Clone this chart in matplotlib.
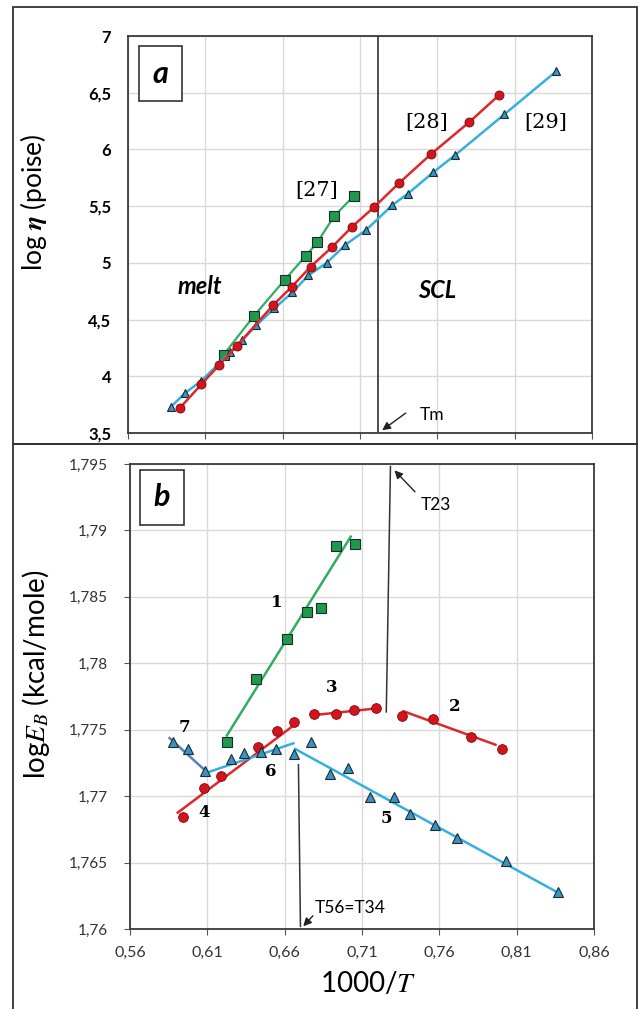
import matplotlib
matplotlib.use("Agg")
import matplotlib.pyplot as plt
from matplotlib.patches import Rectangle

plt.rcParams['font.family'] = ['Lato', 'DejaVu Sans']
plt.rcParams['mathtext.fontset'] = 'stix'

# ---- panel a: log viscosity vs 1000/T ----
ref27_x = [0.6218, 0.6413, 0.6613, 0.6748, 0.6824, 0.6932, 0.7060]
ref27_y = [4.19, 4.53, 4.85, 5.06, 5.18, 5.41, 5.59]

ref28_x = [0.5935, 0.6075, 0.6190, 0.6305, 0.6540, 0.6660, 0.6780, 0.6920,
           0.7050, 0.7190, 0.7350, 0.7560, 0.7806, 0.8000]
ref28_y = [3.72, 3.93, 4.10, 4.27, 4.63, 4.79, 4.965, 5.14, 5.32, 5.49,
           5.70, 5.96, 6.24, 6.48]

ref29_x = [0.5877, 0.5967, 0.6075, 0.6260, 0.6340, 0.6430, 0.6547, 0.6663,
           0.6766, 0.6885, 0.7006, 0.7140, 0.7310, 0.7410, 0.7575, 0.7715,
           0.8034, 0.8370]
ref29_y = [3.73, 3.85, 3.96, 4.21, 4.32, 4.45, 4.60, 4.74, 4.89, 5.00, 5.16,
           5.29, 5.51, 5.61, 5.80, 5.95, 6.31, 6.69]

tm_x = 0.7218

# ---- panel b: log E_B vs 1000/T ----
sq_x = [0.6226, 0.6417, 0.6612, 0.6744, 0.6832, 0.6929, 0.7056]
sq_y = [1.77407, 1.77880, 1.78184, 1.78389, 1.78416, 1.78884, 1.78898]

circ_x = [0.5941, 0.6076, 0.6189, 0.6427, 0.6551, 0.6660,
          0.6789, 0.6932, 0.7048, 0.7191,
          0.7360, 0.7561, 0.7804, 0.8005]
circ_y = [1.76840, 1.77064, 1.77152, 1.77371, 1.77491, 1.77560,
          1.77620, 1.77620, 1.77647, 1.77664,
          1.77606, 1.77584, 1.77447, 1.77357]

tri_x = [0.5875, 0.5973, 0.6086, 0.6255, 0.6340, 0.6446, 0.6546, 0.6662,
         0.6768, 0.6895, 0.7011, 0.7151, 0.7305, 0.7410, 0.7572, 0.7714,
         0.8032, 0.8367]
tri_y = [1.77407, 1.77355, 1.77190, 1.77278, 1.77327, 1.77333, 1.77355,
         1.77316, 1.77409, 1.77163, 1.77210, 1.76996, 1.76996, 1.76862,
         1.76785, 1.76684, 1.76512, 1.76279]

# fitted segments (endpoints)
fit1_x, fit1_y = [0.6226, 0.7027], [1.77456, 1.78953]
fit2_x, fit2_y = [0.7368, 0.7963], [1.77639, 1.77387]
fit3_x, fit3_y = [0.6789, 0.7191], [1.77610, 1.77660]
fit4_x, fit4_y = [0.5909, 0.6644], [1.76876, 1.77520]
fit5_x, fit5_y = [0.6668, 0.8367], [1.77355, 1.76274]
fit6_x, fit6_y = [0.6089, 0.6657], [1.77174, 1.77398]
fit7_x, fit7_y = [0.5856, 0.6089], [1.77437, 1.77190]

t23_x, t23_y = [0.7257, 0.7284], [1.77634, 1.79481]
t56_x, t56_y = [0.6689, 0.6702], [1.77237, 1.76020]

x_ticks = [0.56, 0.61, 0.66, 0.71, 0.76, 0.81, 0.86]
x_tick_labels = ['0,56', '0,61', '0,66', '0,71', '0,76', '0,81', '0,86']
a_yticks = [3.5, 4, 4.5, 5, 5.5, 6, 6.5, 7]
a_ytick_labels = ['3,5', '4', '4,5', '5', '5,5', '6', '6,5', '7']
b_yticks = [1.76, 1.765, 1.77, 1.775, 1.78, 1.785, 1.79, 1.795]
b_ytick_labels = ['1,76', '1,765', '1,77', '1,775', '1,78', '1,785', '1,79', '1,795']

GREEN = '#2fae60'
GREEN_M = '#1f9a4c'
RED = '#e0262a'
RED_M = '#d4141c'
BLUE = '#35afe0'
BLUE_M = '#3a93c0'
SLATE = '#5d7fc0'
EDGE = '#1c2a30'

fig = plt.figure(figsize=(6.43, 10.09), dpi=100)

# outer panel frames
fig.patches.append(Rectangle((13 / 643, 1 - 444 / 1009), 624 / 643, 437 / 1009,
                             transform=fig.transFigure, fill=False,
                             edgecolor='#333333', lw=1.3))
fig.patches.append(Rectangle((13 / 643, -0.01), 624 / 643, 1 - 444 / 1009 + 0.01,
                             transform=fig.transFigure, fill=False,
                             edgecolor='#333333', lw=1.3))

ax1 = fig.add_axes([128 / 643, 1 - 433 / 1009, 464 / 643, 397 / 1009])
ax2 = fig.add_axes([130 / 643, 1 - 929 / 1009, 464 / 643, 465 / 1009])


def style_axes(ax):
    ax.set_xlim(0.56, 0.86)
    ax.set_xticks(x_ticks)
    ax.grid(True, color='#d9d9d9', lw=1.0)
    ax.set_axisbelow(True)
    for s in ax.spines.values():
        s.set_color('#3a3a3a')
        s.set_linewidth(1.3)
    ax.tick_params(direction='out', length=4, color='#555555')


# ---- panel a ----
style_axes(ax1)
ax1.set_ylim(3.5, 7)
ax1.set_yticks(a_yticks)
ax1.set_yticklabels(a_ytick_labels, fontweight='bold', fontsize=12)
ax1.set_xticklabels([])
ax1.tick_params(axis='y', pad=12, length=0)

ax1.axvline(tm_x, color='#404040', lw=1.3, zorder=1)
ax1.plot(ref27_x, ref27_y, '-s', color=GREEN, mfc=GREEN_M, mec=EDGE, mew=0.8,
         ms=6.5, lw=1.6)
ax1.plot(ref29_x, ref29_y, '-^', color=BLUE, mfc=BLUE_M, mec=EDGE, mew=0.8,
         ms=6, lw=1.8)
ax1.plot(ref28_x, ref28_y, '-o', color=RED, mfc=RED_M, mec='#7a0a0a', mew=0.6,
         ms=6.5, lw=1.8)

ax1.text(0.682, 5.635, '[27]', fontsize=15, family='DejaVu Serif', ha='center', va='center')
ax1.text(0.753, 6.24, '[28]', fontsize=15, family='DejaVu Serif', ha='center', va='center')
ax1.text(0.830, 6.24, '[29]', fontsize=15, family='DejaVu Serif', ha='center', va='center')
ax1.text(0.6067, 4.79, 'melt', fontsize=17, fontweight='bold', fontstyle='italic',
         ha='center', va='center')
ax1.text(0.760, 4.76, 'SCL', fontsize=17, fontweight='bold', fontstyle='italic',
         ha='center', va='center')
ax1.annotate('', xy=(0.7229, 3.51), xytext=(0.741, 3.69),
             arrowprops=dict(arrowstyle='-|>', color='#222222', lw=1.0,
                             mutation_scale=12))
ax1.text(0.7487, 3.66, 'Tm', fontsize=12.5, ha='left', va='center')

ax1.text(0.07, 0.905, 'a', transform=ax1.transAxes, fontsize=22, fontweight='bold',
         fontstyle='italic', ha='center', va='center',
         bbox=dict(boxstyle='square,pad=0.45', fc='white', ec='#333333', lw=1.2))

ax1.set_ylabel(r'log $\boldsymbol{\eta}$ (poise)', fontsize=19)
ax1.yaxis.set_label_coords(-0.17, 0.58)

# ---- panel b ----
style_axes(ax2)
ax2.set_ylim(1.76, 1.795)
ax2.set_yticks(b_yticks)
ax2.set_yticklabels(b_ytick_labels, fontsize=11, color='#333333')
ax2.set_xticklabels(x_tick_labels, fontsize=11.5, color='#333333')
ax2.tick_params(axis='y', pad=12)
ax2.tick_params(axis='x', pad=8)

ax2.plot(fit1_x, fit1_y, color=GREEN, lw=1.8)
ax2.plot(fit2_x, fit2_y, color=RED, lw=1.8)
ax2.plot(fit3_x, fit3_y, color=RED, lw=1.8)
ax2.plot(fit4_x, fit4_y, color=RED, lw=1.8)
ax2.plot(fit5_x, fit5_y, color=BLUE, lw=1.8)
ax2.plot(fit6_x, fit6_y, color=BLUE, lw=1.8)
ax2.plot(fit7_x, fit7_y, color=SLATE, lw=1.8)

ax2.plot(sq_x, sq_y, 's', mfc=GREEN_M, mec=EDGE, mew=0.8, ms=7)
ax2.plot(circ_x, circ_y, 'o', mfc=RED_M, mec='#7a0a0a', mew=0.6, ms=7)
ax2.plot(tri_x, tri_y, '^', mfc=BLUE_M, mec=EDGE, mew=0.8, ms=6.5)

ax2.plot(t23_x, t23_y, color='#333333', lw=1.1)
ax2.plot(t56_x, t56_y, color='#333333', lw=1.1)
ax2.annotate('', xy=(0.7297, 1.79467), xytext=(0.7455, 1.79276),
             arrowprops=dict(arrowstyle='-|>', color='#222222', lw=1.0,
                             mutation_scale=12))
ax2.annotate('', xy=(0.6708, 1.76005), xytext=(0.6795, 1.76115),
             arrowprops=dict(arrowstyle='-|>', color='#222222', lw=1.0,
                             mutation_scale=12))
ax2.text(0.7482, 1.7919, 'T23', fontsize=12.5, ha='left', va='center')
ax2.text(0.6795, 1.76156, 'T56=T34', fontsize=12.5, ha='left', va='center')

seg_labels = ['1', '2', '3', '4', '5', '6', '7']
seg_lx = [0.6551, 0.7701, 0.6906, 0.6081, 0.7257, 0.6509, 0.5949]
seg_ly = [1.78455, 1.77675, 1.77817, 1.76876, 1.76835, 1.77182, 1.77519]
for lab, lx, ly in zip(seg_labels, seg_lx, seg_ly):
    ax2.text(lx, ly, lab, fontsize=12, fontweight='bold', family='DejaVu Serif',
             ha='center', va='center')

ax2.text(0.068, 0.928, 'b', transform=ax2.transAxes, fontsize=22, fontweight='bold',
         fontstyle='italic', ha='center', va='center',
         bbox=dict(boxstyle='square,pad=0.45', fc='white', ec='#333333', lw=1.2))

ax2.set_ylabel(r'log$E_B$ (kcal/mole)', fontsize=20)
ax2.yaxis.set_label_coords(-0.168, 0.547)
ax2.set_xlabel(r'1000/$T$', fontsize=20)
ax2.xaxis.set_label_coords(0.514, -0.088)

fig.savefig('out.png', dpi=100)
